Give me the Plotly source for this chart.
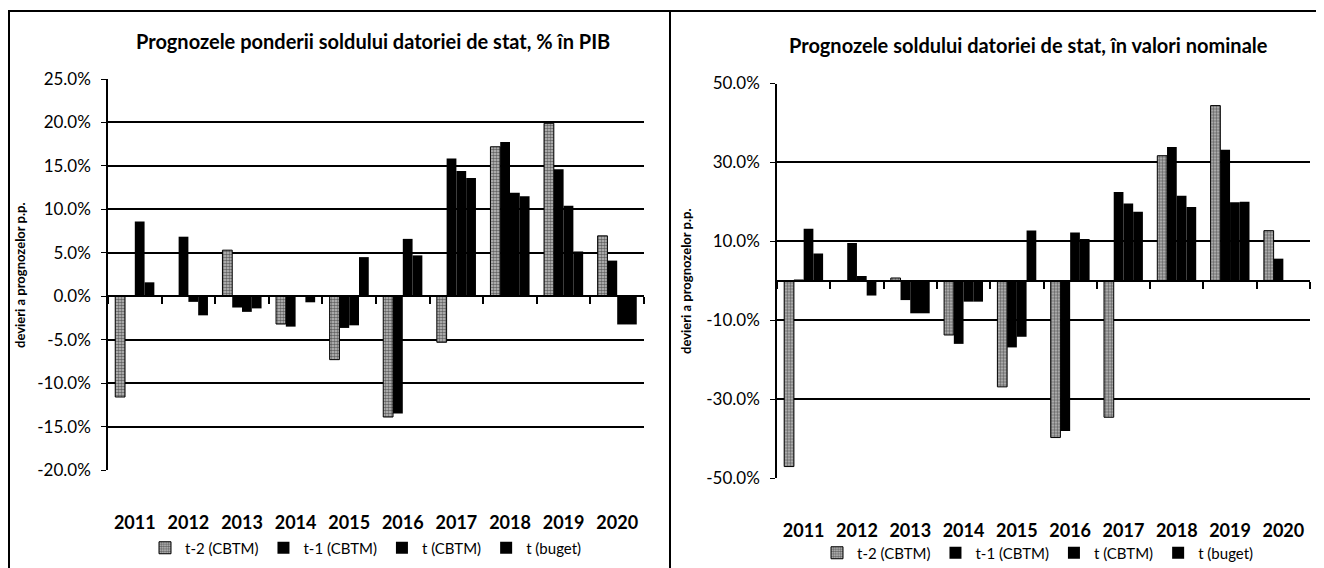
import plotly.graph_objects as go

# Categories and series (percent)
years = ['2011', '2012', '2013', '2014', '2015', '2016', '2017', '2018', '2019', '2020']
series_names = ['t-2 (CBTM)', 't-1 (CBTM)', 't (CBTM)', 't (buget)']

# Left: ponderea soldului datoriei de stat, % in PIB
pib_t2 = [-11.6, 0, 5.3, -3.2, -7.3, -13.9, -5.3, 17.2, 19.9, 6.95]
pib_t1 = [0, 6.85, -1.3, -3.5, -3.65, -13.5, 15.85, 17.75, 14.6, 4.1]
pib_t = [8.6, -0.65, -1.8, 0, -3.35, 6.6, 14.4, 11.9, 10.4, -3.25]
pib_buget = [1.6, -2.2, -1.4, -0.7, 4.5, 4.7, 13.6, 11.5, 5.15, -3.25]

# Right: soldul datoriei de stat, valori nominale
nom_t2 = [-47.1, 0, 0.7, -13.75, -26.9, -39.75, -34.6, 31.7, 44.4, 12.7]
nom_t1 = [0.3, 9.6, -4.9, -16.0, -16.9, -38.1, 22.5, 33.9, 33.2, 5.6]
nom_t = [13.2, 1.2, -8.25, -5.3, -14.2, 12.25, 19.6, 21.55, 19.9, 0]
nom_buget = [6.9, -3.75, -8.25, -5.3, 12.75, 10.6, 17.5, 18.7, 20.0, 0]

left_ticks = [-20, -15, -10, -5, 0, 5, 10, 15, 20, 25]
right_ticks = [-50, -30, -10, 10, 30, 50]

# the page body has an 8px margin, so the figure starts at (8, 8)
OFF = 8
W, H = 1324 - OFF, 568 - OFF
FONT = 'Lato'


def px(x):
    return (x - OFF) / W


def py(y):
    return 1 - (y - OFF) / H


def bar_style(i):
    if i == 0:
        return dict(color='#c8c8c8', line=dict(color='black', width=1),
                    pattern=dict(shape='.', fgcolor='black', size=3, solidity=0.6))
    return dict(color='black', line=dict(color='black', width=0))


fig = go.Figure()
for i, vals in enumerate([pib_t2, pib_t1, pib_t, pib_buget]):
    fig.add_trace(go.Bar(name=series_names[i], x=years, y=vals, marker=bar_style(i),
                         xaxis='x', yaxis='y', legend='legend'))
for i, vals in enumerate([nom_t2, nom_t1, nom_t, nom_buget]):
    fig.add_trace(go.Bar(name=series_names[i], x=years, y=vals, marker=bar_style(i),
                         xaxis='x2', yaxis='y2', legend='legend2'))
# empty traces so the category axes crossing at zero get drawn
fig.add_trace(go.Scatter(x=[None], y=[None], xaxis='x3', yaxis='y', showlegend=False, hoverinfo='skip'))
fig.add_trace(go.Scatter(x=[None], y=[None], xaxis='x4', yaxis='y2', showlegend=False, hoverinfo='skip'))

L_dom = [px(108), px(644)]
L_y = [py(470), py(79)]
R_dom = [px(777), px(1310)]
R_y = [py(478), py(83.5)]
L_zero = L_y[0] + (0 - (-20)) / 45 * (L_y[1] - L_y[0])
R_zero = R_y[0] + 0.5 * (R_y[1] - R_y[0])
boundaries = [i - 0.5 for i in range(len(years) + 1)]

cat_axis = dict(type='category', range=[-0.5, 9.5], showline=False, showgrid=False, ticks='',
                automargin=False, tickfont=dict(family=FONT, size=18, color='black', weight='bold'))
zero_axis = dict(type='linear', range=[-0.5, 9.5], anchor='free', showline=True, linecolor='black',
                 linewidth=1.5, ticks='outside', ticklen=7, tickwidth=1.5, tickcolor='black',
                 tickvals=boundaries, showticklabels=False, showgrid=False, zeroline=False,
                 automargin=False)
val_axis = dict(showline=True, linecolor='black', linewidth=1.5, ticks='outside', ticklen=5,
                tickcolor='black', showgrid=True, gridcolor='black', gridwidth=1.5, zeroline=False,
                automargin=False, ticklabelstandoff=7, tickfont=dict(family=FONT, size=17, color='black'))

fig.update_layout(
    width=W, height=H,
    margin=dict(l=0, r=0, t=0, b=0, pad=0, autoexpand=False),
    paper_bgcolor='white', plot_bgcolor='white',
    font=dict(family=FONT, color='black'),
    barmode='group', bargap=0.27, bargroupgap=0,
    xaxis=dict(cat_axis, domain=L_dom, anchor='y', ticklabelstandoff=40),
    yaxis=dict(val_axis, domain=L_y, anchor='x', range=[-20, 25], tickvals=left_ticks,
               ticktext=[f'{v:.1f}%' for v in left_ticks]),
    xaxis2=dict(cat_axis, domain=R_dom, anchor='y2', ticklabelstandoff=40),
    yaxis2=dict(val_axis, domain=R_y, anchor='x2', range=[-50, 50], tickvals=right_ticks,
                ticktext=[f'{v:.1f}%' for v in right_ticks]),
    xaxis3=dict(zero_axis, overlaying='x', position=L_zero),
    xaxis4=dict(zero_axis, overlaying='x2', position=R_zero),
    legend=dict(orientation='h', x=px(366), xanchor='center', y=py(548), yanchor='middle',
                font=dict(family=FONT, size=15), itemwidth=30, bgcolor='rgba(0,0,0,0)'),
    legend2=dict(orientation='h', x=px(1038), xanchor='center', y=py(553), yanchor='middle',
                 font=dict(family=FONT, size=15), itemwidth=30, bgcolor='rgba(0,0,0,0)'),
)

fig.add_annotation(text='Prognozele ponderii soldului datoriei de stat, % în PIB', xref='paper', yref='paper',
                   x=px(373), y=py(41), xanchor='center', yanchor='middle', showarrow=False,
                   font=dict(family=FONT, size=20, weight='bold'))
fig.add_annotation(text='Prognozele soldului datoriei de stat, în valori nominale', xref='paper', yref='paper',
                   x=px(1028), y=py(45), xanchor='center', yanchor='middle', showarrow=False,
                   font=dict(family=FONT, size=20, weight='bold'))
for xt, yt in [(20, 275), (686, 281)]:
    fig.add_annotation(text='devieri a prognozelor p.p.', xref='paper', yref='paper', x=px(xt), y=py(yt),
                       xanchor='center', yanchor='middle', textangle=-90, showarrow=False,
                       font=dict(family=FONT, size=13, weight='bold'))

# outer frame of the two panels
frame = dict(type='line', xref='paper', yref='paper', line=dict(color='black', width=2))
fig.add_shape(frame, x0=0, x1=1, y0=py(11), y1=py(11))
fig.add_shape(frame, x0=px(9), x1=px(9), y0=py(11), y1=0)
fig.add_shape(frame, x0=px(670), x1=px(670), y0=py(11), y1=0)

fig.write_html('out.html')
